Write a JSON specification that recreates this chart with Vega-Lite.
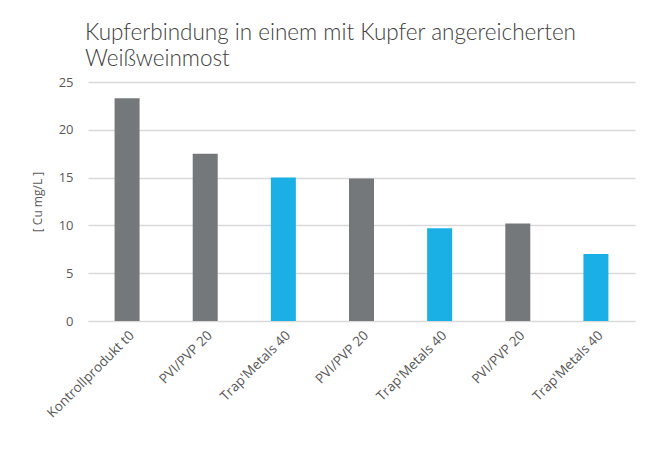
{
  "$schema": "https://vega.github.io/schema/vega-lite/v6.json",
  "width": 547,
  "height": 239,
  "autosize": {"type": "none"},
  "padding": {"left": 88, "top": 82, "right": 24, "bottom": 138},
  "background": "white",
  "title": {
    "text": ["Kupferbindung in einem mit Kupfer angereicherten", "Weißweinmost"],
    "anchor": "start",
    "frame": "group",
    "dx": -3,
    "offset": 6,
    "font": "Lato",
    "fontSize": 22.5,
    "fontWeight": 300,
    "lineHeight": 26,
    "color": "#404040"
  },
  "data": {
    "values": [
      {"id": "1", "label": "Kontrollprodukt t0", "group": "Kontrolle", "value": 23.3},
      {"id": "2", "label": "PVI/PVP 20", "group": "PVI/PVP", "value": 17.5},
      {"id": "3", "label": "Trap'Metals 40", "group": "Trap'Metals", "value": 15.0},
      {"id": "4", "label": "PVI/PVP 20", "group": "PVI/PVP", "value": 14.9},
      {"id": "5", "label": "Trap'Metals 40", "group": "Trap'Metals", "value": 9.7},
      {"id": "6", "label": "PVI/PVP 20", "group": "PVI/PVP", "value": 10.2},
      {"id": "7", "label": "Trap'Metals 40", "group": "Trap'Metals", "value": 7.0}
    ]
  },
  "mark": {"type": "bar"},
  "encoding": {
    "x": {
      "field": "id",
      "type": "nominal",
      "sort": null,
      "scale": {"paddingInner": 0.68, "paddingOuter": 0.34},
      "axis": {
        "title": null,
        "labelExpr": "['Kontrollprodukt t0','PVI/PVP 20','Trap\\'Metals 40','PVI/PVP 20','Trap\\'Metals 40','PVI/PVP 20','Trap\\'Metals 40'][toNumber(datum.value)-1]",
        "labelAngle": -45,
        "labelFont": "Open Sans",
        "labelFontSize": 13.5,
        "labelColor": "#595959",
        "labelPadding": 7,
        "ticks": false,
        "domainColor": "#d9d9d9",
        "domainWidth": 1
      }
    },
    "y": {
      "field": "value",
      "type": "quantitative",
      "scale": {"domain": [0, 25]},
      "axis": {
        "title": "[ Cu mg/L ]",
        "titleFont": "Open Sans",
        "titleFontSize": 12,
        "titleFontWeight": "normal",
        "titleColor": "#595959",
        "titlePadding": 14,
        "values": [0, 5, 10, 15, 20, 25],
        "labelFont": "Open Sans",
        "labelFontSize": 13,
        "labelColor": "#595959",
        "labelPadding": 15,
        "ticks": false,
        "domain": false,
        "gridColor": "#d9d9d9",
        "gridWidth": 1.5
      }
    },
    "color": {
      "field": "group",
      "type": "nominal",
      "scale": {"domain": ["Kontrolle", "PVI/PVP", "Trap'Metals"], "range": ["#75787b", "#75787b", "#1ab0e6"]},
      "legend": null
    }
  },
  "config": {"view": {"stroke": null}}
}
